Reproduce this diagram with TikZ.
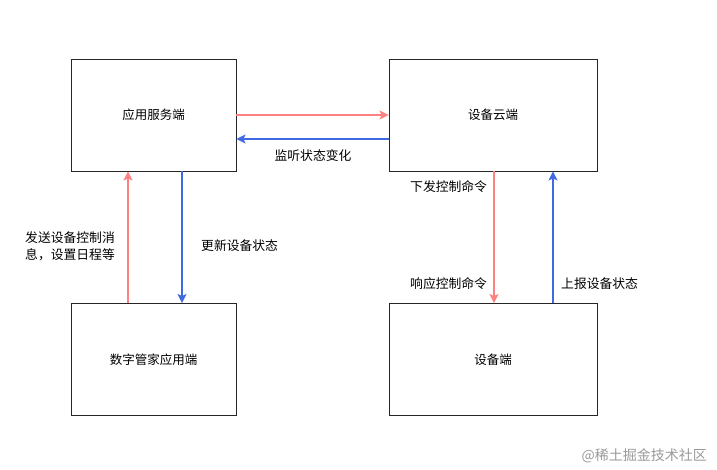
\documentclass[tikz,border=0pt]{standalone}
\usepackage{fontspec}
\setmainfont{Noto Sans CJK SC}
\usetikzlibrary{arrows.meta}
\definecolor{redl}{HTML}{FF8080}
\definecolor{bluel}{HTML}{4169E1}
\begin{document}
\begin{tikzpicture}[x=1pt,y=-1pt,
  box/.style={draw=black!85,line width=0.9pt,minimum width=#1,minimum height=112pt,inner sep=0pt,font=\fontsize{12.5}{14}\selectfont},
  lbl/.style={font=\fontsize{12.8}{17}\selectfont,inner sep=0pt},
  ra/.style={draw=redl,line width=2.2pt,-{Stealth[length=9pt,width=9pt,inset=2pt]}},
  ba/.style={draw=bluel,line width=2.2pt,-{Stealth[length=9pt,width=9pt,inset=2pt]}}]
\useasboundingbox (0,0) rectangle (717,470);
\node[box=165pt] (app) at (153.5,115) {应用服务端};
\node[box=208pt] (cloud) at (493,115) {设备云端};
\node[box=165pt] (home) at (153.5,359.5) {数字管家应用端};
\node[box=208pt] (dev) at (493,359.5) {设备端};
% top pair
\draw[ra] (app.east |- 0,115) -- (cloud.west |- 0,115);
\draw[ba] (cloud.west |- 0,139) -- (app.east |- 0,139);
\node[lbl] (l1) at (313,156) {监听状态变化};
% left pair
\draw[ra] (128,0 |- home.north) -- (128,0 |- app.south);
\draw[ba] (182,0 |- app.south) -- (182,0 |- home.north);
\node[lbl,align=left,anchor=west] (l2) at (25,246) {发送设备控制消\\息，设置日程等};
\node[lbl,anchor=west] (l3) at (201,246) {更新设备状态};
% right pair
\draw[ra] (494,0 |- cloud.south) -- (494,0 |- dev.north);
\draw[ba] (553,0 |- dev.north) -- (553,0 |- cloud.south);
\node[lbl,anchor=west] (l4) at (410,187) {下发控制命令};
\node[lbl,anchor=west] (l5) at (410,284) {响应控制命令};
\node[lbl,anchor=west] (l6) at (561,284) {上报设备状态};
% watermark
\node[font=\fontsize{14}{16}\selectfont,text=black!40,anchor=east,inner sep=0pt] (wm) at (707,456) {@稀土掘金技术社区};
\end{tikzpicture}
\end{document}
